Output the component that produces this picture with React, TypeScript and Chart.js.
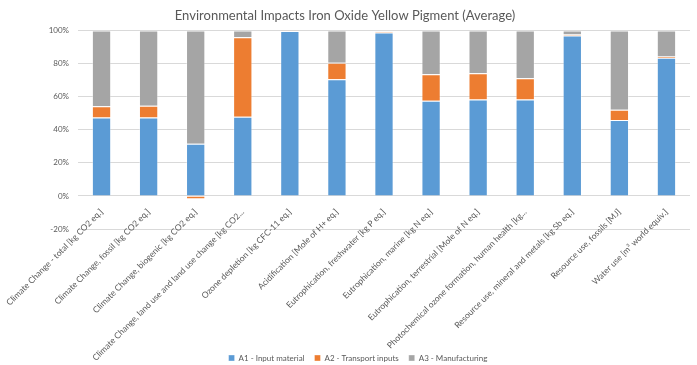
import React, { useEffect, useRef } from "react";
import { Chart, registerables } from "chart.js";

Chart.register(...registerables);

const chartTitle = "Environmental Impacts Iron Oxide Yellow Pigment (Average)";

const categories = [
  "Climate Change - total [kg CO2 eq.]",
  "Climate Change, fossil [kg CO2 eq.]",
  "Climate Change, biogenic [kg CO2 eq.]",
  "Climate Change, land use and land use change [kg CO2...",
  "Ozone depletion [kg CFC-11 eq.]",
  "Acidification [Mole of H+ eq.]",
  "Eutrophication, freshwater [kg P eq.]",
  "Eutrophication, marine [kg N eq.]",
  "Eutrophication, terrestrial [Mole of N eq.]",
  "Photochemical ozone formation, human health [kg...",
  "Resource use, mineral and metals [kg Sb eq.]",
  "Resource use, fossils [MJ]",
  "Water use [m³ world equiv.]",
];

const seriesNames = ["A1 - Input material", "A2 - Transport inputs", "A3 - Manufacturing"];

const inputMaterial = [47.5, 47.5, 31.5, 47.9, 99.8, 70.5, 98.8, 57.6, 58.4, 58.4, 97.0, 45.9, 83.6];
const transportInputs = [6.7, 7.0, -2.0, 48.1, 0.1, 10.1, 0.8, 16.0, 15.8, 12.8, 0.6, 6.2, 0.8];
const manufacturing = [45.8, 45.5, 68.5, 4.0, 0.1, 19.4, 0.4, 26.4, 25.8, 28.8, 2.4, 47.9, 15.6];

const yTicks = [-20, 0, 20, 40, 60, 80, 100];

const FONT = "Lato, 'Open Sans', sans-serif";
const TEXT = "#595959";

const shiftLegend = {
  id: "shiftLegend",
  afterLayout(chart: any) {
    const l = chart.legend;
    if (l) l.left += 26;
  },
};

export default function App() {
  const ref = useRef<HTMLCanvasElement>(null);

  useEffect(() => {
    document.body.style.margin = "0";
    const canvas = ref.current;
    if (!canvas) return;
    const mk = (label: string, data: number[], color: string) => ({
      label,
      data,
      backgroundColor: color,
      borderColor: "rgba(255,255,255,0.35)",
      borderWidth: 1,
      categoryPercentage: 1,
      barPercentage: 0.41,
      xAxisID: "x",
    });
    const chart = new Chart(canvas, {
      type: "bar",
      data: {
        labels: categories,
        datasets: [
          mk(seriesNames[0], inputMaterial, "#5B9BD5"),
          mk(seriesNames[1], transportInputs, "#ED7D31"),
          mk(seriesNames[2], manufacturing, "#A5A5A5"),
        ],
      },
      plugins: [shiftLegend],
      options: {
        animation: false,
        responsive: false,
        maintainAspectRatio: false,
        layout: { padding: { left: 0, right: 7, top: 0, bottom: -7 } },
        plugins: {
          title: {
            display: true,
            text: chartTitle,
            color: TEXT,
            font: { family: FONT, size: 13, weight: "normal" },
            padding: { top: 8, bottom: 7 },
          },
          legend: {
            position: "bottom",
            labels: {
              boxWidth: 6,
              boxHeight: 6,
              color: TEXT,
              font: { family: FONT, size: 8 },
              padding: 10,
            },
          },
          tooltip: { enabled: false },
        },
        scales: {
          x: {
            type: "category",
            axis: "x",
            stacked: true,
            position: { y: 0 } as any,
            grid: { display: false },
            border: { display: false },
            ticks: {
              autoSkip: false,
              maxRotation: 45,
              minRotation: 45,
              color: TEXT,
              font: { family: FONT, size: 8.5 },
              padding: 3,
            },
          },
          x2: {
            type: "linear",
            axis: "x",
            position: "bottom",
            display: true,
            grid: { display: false },
            border: { display: false },
            ticks: { display: false },
            afterFit: (s: any) => {
              s.height = 115;
            },
          },
          y: {
            type: "linear",
            stacked: true,
            min: -20,
            max: 100,
            grid: { color: "#D9D9D9", drawTicks: false, lineWidth: 1 },
            border: { display: false },
            afterBuildTicks: (s: any) => {
              s.ticks = yTicks.map((v) => ({ value: v }));
            },
            afterFit: (s: any) => {
              s.width = 78;
            },
            ticks: {
              color: TEXT,
              font: { family: FONT, size: 8 },
              padding: 9,
              callback: (v: any) => `${v}%`,
            },
          },
        },
      },
    });
    return () => chart.destroy();
  }, []);

  return (
    <div style={{ width: 697, height: 365, background: "#fff" }}>
      <canvas ref={ref} width={697} height={365} style={{ display: "block" }} />
    </div>
  );
}
